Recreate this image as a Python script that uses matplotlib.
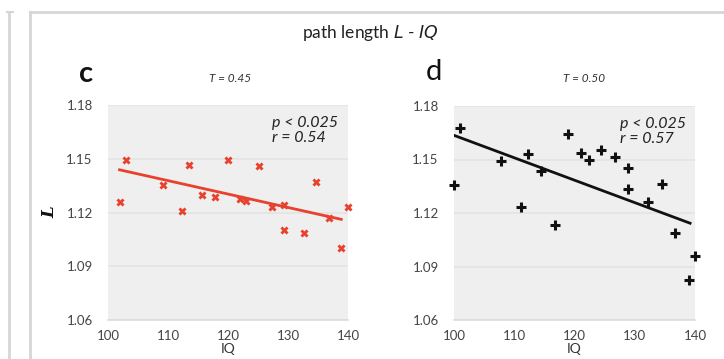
import matplotlib
matplotlib.use("Agg")
import matplotlib.pyplot as plt
from matplotlib.lines import Line2D

plt.rcParams['font.family'] = ['Lato', 'DejaVu Sans']

# ---- data ----
iq_c = [102, 103, 109.2, 112.4, 113.5, 115.6, 117.8, 120, 122, 123, 125.2,
        127.3, 129.3, 129.3, 132.6, 134.7, 136.9, 138.8, 140]
L_c = [1.1257, 1.1494, 1.1356, 1.1211, 1.1467, 1.1296, 1.1285, 1.1494, 1.1276,
       1.1263, 1.146, 1.123, 1.1244, 1.110, 1.1083, 1.1368, 1.117, 1.100, 1.1232]
fit_c_x = [101.7, 139.1]
fit_c_y = [1.144, 1.116]

iq_d = [100.05, 101.05, 107.85, 111.2, 112.2, 114.4, 116.7, 119.0, 121.1, 122.4,
        124.4, 126.8, 128.8, 128.9, 132.2, 134.5, 136.6, 138.96, 140.05]
L_d = [1.1358, 1.1675, 1.1492, 1.1233, 1.1532, 1.1436, 1.1134, 1.1642, 1.1535,
       1.150, 1.1554, 1.1513, 1.1455, 1.1334, 1.1263, 1.1364, 1.1088, 1.0827, 1.0957]
fit_d_x = [99.8, 139.4]
fit_d_y = [1.1638, 1.114]

xticks = [100, 110, 120, 130, 140]
yticks = [1.06, 1.09, 1.12, 1.15, 1.18]
ytick_labels = ['1.06', '1.09', '1.12', '1.15', '1.18']

W, H = 724, 359
fig = plt.figure(figsize=(W / 100, H / 100), dpi=100)
fig.patch.set_facecolor('white')

def fx(px):
    return px / W

def fy(py):
    return 1 - py / H

# outer faded frames
border = '#d6d6d6'
fig.add_artist(Line2D([fx(9), fx(9)], [fy(12), fy(359)], color=border, lw=2, transform=fig.transFigure))
fig.add_artist(Line2D([fx(7), fx(13)], [fy(12), fy(12)], color=border, lw=1.5, transform=fig.transFigure))
fig.add_artist(Line2D([fx(30), fx(30)], [fy(12), fy(359)], color=border, lw=2, transform=fig.transFigure))
fig.add_artist(Line2D([fx(30), fx(724)], [fy(12), fy(12)], color=border, lw=2, transform=fig.transFigure))

fig.text(fx(370), fy(33), 'path length $\\mathit{L}$ - $\\mathit{IQ}$', ha='center', va='center',
         fontsize=12.5, color='#222222')

def make_axes(left_px, right_px, top_px, bottom_px):
    ax = fig.add_axes([fx(left_px), fy(bottom_px), fx(right_px - left_px), (bottom_px - top_px) / H])
    ax.set_facecolor('#efefef')
    ax.set_xlim(100, 140)
    ax.set_ylim(1.06, 1.18)
    ax.set_xticks(xticks)
    ax.set_yticks(yticks)
    ax.set_yticklabels(ytick_labels)
    for s in ['top', 'right', 'left']:
        ax.spines[s].set_visible(False)
    ax.spines['bottom'].set_color('#dcdcdc')
    ax.spines['bottom'].set_linewidth(1.2)
    ax.tick_params(length=0, labelsize=9.5, colors='#444444')
    ax.tick_params(axis='x', pad=7)
    ax.tick_params(axis='y', pad=11)
    ax.yaxis.grid(True, color='#e3e3e3', lw=1.2)
    ax.set_axisbelow(True)
    ax.set_xlabel('IQ', fontsize=10, color='#333333', labelpad=1)
    return ax

axc = make_axes(108, 348, 105, 320)
axc.plot(fit_c_x, fit_c_y, color='#e8412e', lw=2, solid_capstyle='butt')
axc.scatter(iq_c, L_c, marker='X', s=34, color='#e8412e', linewidths=0, zorder=3, clip_on=False)
axc.set_ylabel('L', fontsize=12, family='DejaVu Serif', fontweight='bold', style='italic',
               color='#111111', labelpad=6)
axc.text(0.685, 0.95, 'p < 0.025\nr = 0.54', transform=axc.transAxes, ha='left', va='top',
         fontsize=11.5, style='italic', color='#222222', linespacing=1.1)

axd = make_axes(454, 695, 106, 320)
axd.plot(fit_d_x, fit_d_y, color='#111111', lw=2, solid_capstyle='butt')
axd.scatter(iq_d, L_d, marker='+', s=44, color='#111111', linewidths=2.2, zorder=3, clip_on=False)
axd.text(0.69, 0.95, 'p < 0.025\nr = 0.57', transform=axd.transAxes, ha='left', va='top',
         fontsize=11.5, style='italic', color='#222222', linespacing=1.1)

fig.text(fx(86), fy(74), 'c', ha='center', va='center', fontsize=21, color='#111111', fontweight='bold')
fig.text(fx(434), fy(72), 'd', ha='center', va='center', fontsize=21, color='#111111')
fig.text(fx(230), fy(78), 'T = 0.45', ha='center', va='center', fontsize=8.5, style='italic', color='#333333')
fig.text(fx(584), fy(78), 'T = 0.50', ha='center', va='center', fontsize=8.5, style='italic', color='#333333')

fig.savefig('out.png', dpi=100)
